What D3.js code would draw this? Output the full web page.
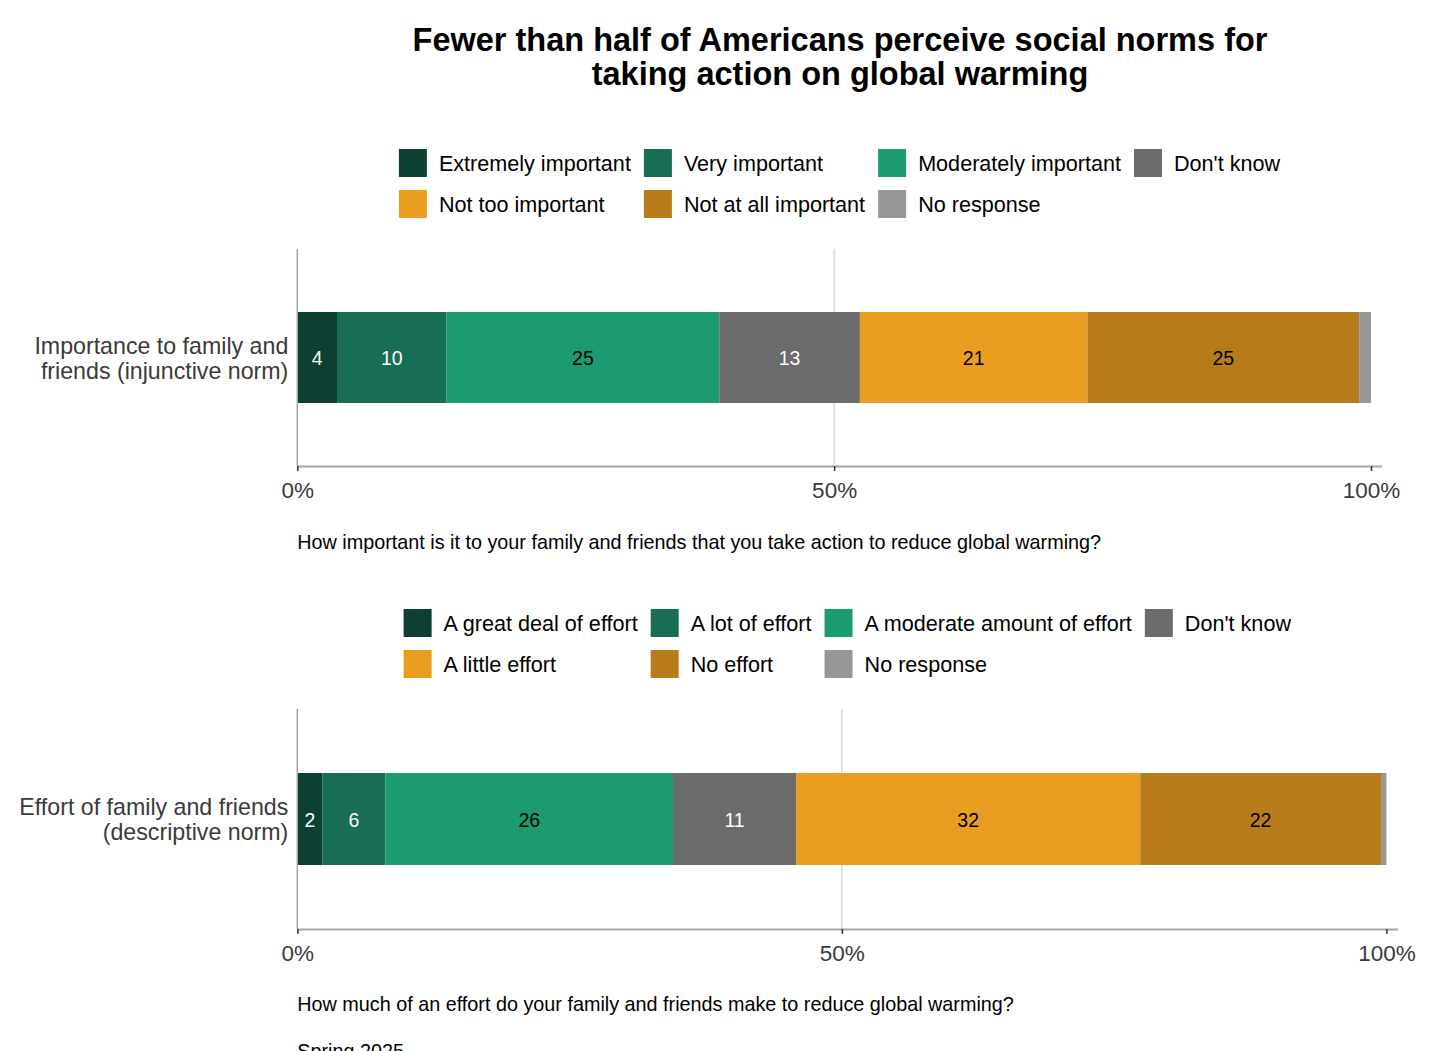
<!DOCTYPE html>
<html>
<head>
<meta charset="utf-8">
<script src="https://cdn.jsdelivr.net/npm/d3@7"></script>
<style>
  body { margin: 0; background: #fff; }
  svg { display: block; font-family: "Liberation Sans", Arial, sans-serif; }
</style>
</head>
<body>
<svg id="chart" width="1456" height="1051"></svg>
<script>
// ---- data ----
const titleLines = ["Fewer than half of Americans perceive social norms for",
                    "taking action on global warming"];

const injLevels = ["Extremely important", "Very important", "Moderately important", "Don't know",
                   "Not too important", "Not at all important", "No response"];
const injValues = [3.7, 10.2, 25.4, 13.1, 21.2, 25.3, 1.1];
const injCategory = ["Importance to family and", "friends (injunctive norm)"];
const injQuestion = "How important is it to your family and friends that you take action to reduce global warming?";

const effLevels = ["A great deal of effort", "A lot of effort", "A moderate amount of effort", "Don't know",
                   "A little effort", "No effort", "No response"];
const effValues = [2.3, 5.8, 26.4, 11.3, 31.6, 22.1, 0.5];
const effCategory = ["Effort of family and friends", "(descriptive norm)"];
const effQuestion = "How much of an effort do your family and friends make to reduce global warming?";

const tickValues = [0, 50, 100];
const tickLabels = ["0%", "50%", "100%"];
const footnote = "Spring 2025";

const colors = ["#0d3f32", "#176e55", "#1c9b72", "#6b6b6b", "#e99e22", "#b67c1a", "#979797"];
const labelColors = ["#fff", "#fff", "#000", "#fff", "#000", "#000", "#000"];

const svg = d3.select("#chart");

// title
svg.append("g").selectAll("text")
    .data(titleLines)
    .enter().append("text")
    .attr("x", 840)
    .attr("y", (d, i) => 51 + i * 34)
    .attr("text-anchor", "middle")
    .attr("font-size", 32.5)
    .attr("font-weight", "bold")
    .attr("fill", "#000")
    .text(d => d);

/**
 * Draw one stacked-bar panel with its legend.
 */
function drawPanel(cfg) {
    let g = svg.append("g");
    let x = d3.scaleLinear().domain([0, 101]).range([cfg.left, cfg.right]);

    // legend: 4 columns, filled by row
    let legend = g.append("g");
    let ncol = 4;
    let items = legend.selectAll("g.item")
        .data(cfg.levels)
        .enter().append("g").attr("class", "item");
    items.append("rect")
        .attr("width", 28).attr("height", 28)
        .attr("fill", (d, i) => colors[i]);
    items.append("text")
        .attr("x", 40).attr("y", 22)
        .attr("font-size", 21.6)
        .attr("fill", "#000")
        .text(d => d);
    let widths = [];
    items.each(function(d, i) {
        let w = d3.select(this).select("text").node().getComputedTextLength();
        let c = i % ncol;
        widths[c] = Math.max(widths[c] || 0, w);
    });
    let colX = [0];
    for (let c = 1; c < ncol; c++) colX[c] = colX[c - 1] + 40 + widths[c - 1] + 13;
    let totalW = colX[ncol - 1] + 40 + widths[ncol - 1];
    let legendX = (cfg.left + x(101)) / 2 - totalW / 2;
    items.attr("transform", (d, i) =>
        "translate(" + (legendX + colX[i % ncol]) + "," + (cfg.legendY + Math.floor(i / ncol) * 41) + ")");

    // gridline at 50%
    g.append("line")
        .attr("x1", x(50)).attr("x2", x(50))
        .attr("y1", cfg.top).attr("y2", cfg.bottom)
        .attr("stroke", "#cfcfcf").attr("stroke-width", 1.2);

    // stacked bar
    let stack = [];
    let acc = 0;
    cfg.values.forEach(function(v, i) {
        stack.push({v: v, x0: acc, x1: acc + v, i: i});
        acc += v;
    });
    let bars = g.append("g");
    bars.selectAll("rect")
        .data(stack)
        .enter().append("rect")
        .attr("x", d => x(d.x0))
        .attr("width", d => x(d.x1) - x(d.x0))
        .attr("y", cfg.barTop)
        .attr("height", cfg.barBottom - cfg.barTop)
        .attr("fill", d => colors[d.i]);
    bars.selectAll("text")
        .data(stack.filter(d => d.i < 6))
        .enter().append("text")
        .attr("x", d => x((d.x0 + d.x1) / 2))
        .attr("y", (cfg.barTop + cfg.barBottom) / 2 + 7.5)
        .attr("text-anchor", "middle")
        .attr("font-size", 19.5)
        .attr("fill", d => labelColors[d.i])
        .text(d => Math.round(d.v));

    // y axis line
    g.append("line")
        .attr("x1", cfg.left).attr("x2", cfg.left)
        .attr("y1", cfg.top).attr("y2", cfg.bottom)
        .attr("stroke", "#a6a6a6").attr("stroke-width", 1.5);

    // x axis
    let axis = g.append("g")
        .attr("transform", "translate(0," + cfg.bottom + ")")
        .call(d3.axisBottom(x).tickValues(tickValues)
            .tickFormat((d, i) => tickLabels[i]).tickSize(5).tickSizeOuter(0));
    axis.select(".domain").attr("stroke", "#a6a6a6").attr("stroke-width", 2);
    axis.selectAll(".tick line").attr("stroke", "#333").attr("stroke-width", 1.5);
    axis.selectAll(".tick text")
        .attr("font-size", 22.5).attr("fill", "#3a3a3a")
        .attr("font-family", "Liberation Sans, Arial, sans-serif")
        .attr("dy", null).attr("y", 32);

    // category label
    g.append("g").selectAll("text")
        .data(cfg.category)
        .enter().append("text")
        .attr("x", cfg.left - 9)
        .attr("y", (d, i) => (cfg.barTop + cfg.barBottom) / 2 - 4 + i * 25)
        .attr("text-anchor", "end")
        .attr("font-size", 23.2)
        .attr("fill", "#3a3a3a")
        .text(d => d);

    // question caption
    g.append("text")
        .attr("x", cfg.left)
        .attr("y", cfg.captionY)
        .attr("font-size", 19.8)
        .attr("fill", "#000")
        .text(cfg.question);
}

drawPanel({
    levels: injLevels, values: injValues, category: injCategory, question: injQuestion,
    left: 297.3, right: 1381.7, top: 249, bottom: 466,
    barTop: 312, barBottom: 403, legendY: 149, captionY: 549
});

drawPanel({
    levels: effLevels, values: effValues, category: effCategory, question: effQuestion,
    left: 297.3, right: 1397.3, top: 709, bottom: 929,
    barTop: 773, barBottom: 865, legendY: 609, captionY: 1011
});

svg.append("text")
    .attr("x", 297.3)
    .attr("y", 1058)
    .attr("font-size", 19.8)
    .attr("fill", "#000")
    .text(footnote);
</script>
</body>
</html>
